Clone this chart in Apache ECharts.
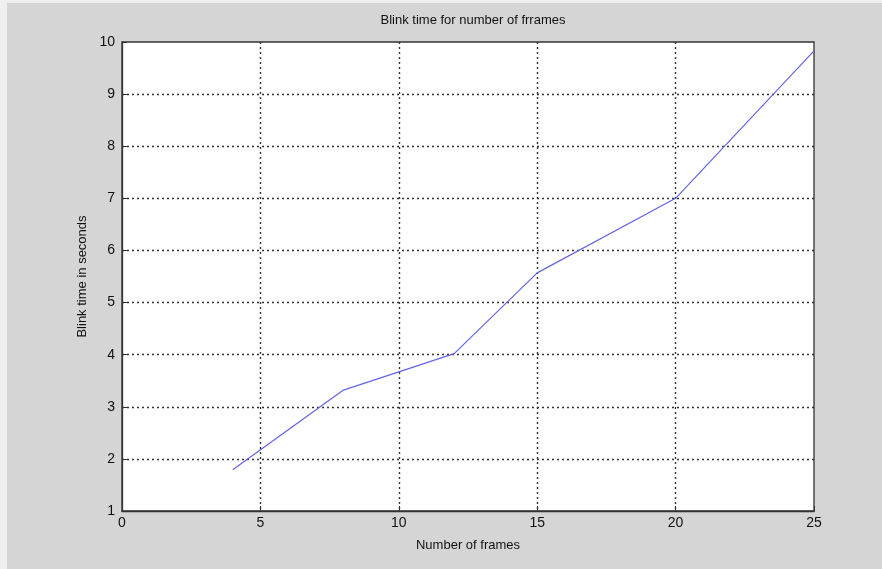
<!DOCTYPE html>
<html>
<head>
<meta charset="utf-8">
<script src="https://cdn.jsdelivr.net/npm/echarts@6/dist/echarts.min.js"></script>
<style>
  html, body { margin: 0; padding: 0; background: #efefef; width: 882px; height: 569px; overflow: hidden; }
  #c { position: absolute; left: 7px; top: 3px; width: 875px; height: 566px; background: #d5d5d5; }
</style>
</head>
<body>
<div id="c"></div>
<script>
const titleText = 'Blink time for number of frrames';
const xName = 'Number of frames';
const yName = 'Blink time in seconds';
const frames = [4, 8, 12, 15, 20, 25];
const blinkTime = [1.79, 3.32, 4.02, 5.57, 7.0, 9.83];

const chart = echarts.init(document.getElementById('c'));
const font = 'Liberation Sans, Arial, sans-serif';
const gridLeft = 115, gridTop = 39, gridW = 692, gridH = 469;
chart.setOption({
  animation: false,
  backgroundColor: 'transparent',
  title: {
    text: titleText,
    left: gridLeft + gridW / 2,
    textAlign: 'center',
    top: 6,
    textStyle: { fontFamily: font, fontSize: 13, fontWeight: 'normal', color: '#111' }
  },
  grid: {
    left: gridLeft, top: gridTop, width: gridW, height: gridH,
    show: true, backgroundColor: '#ffffff', borderColor: '#333', borderWidth: 1.3
  },
  xAxis: {
    type: 'value', min: 0, max: 25, interval: 5,
    name: xName, nameLocation: 'middle', nameGap: 28,
    nameTextStyle: { fontFamily: font, fontSize: 13, color: '#111' },
    axisLine: { show: true, lineStyle: { color: '#333', width: 1.3 } },
    axisTick: { show: true, inside: true, length: 5, lineStyle: { color: '#333' } },
    axisLabel: { fontFamily: font, fontSize: 14, color: '#111', margin: 5 },
    splitLine: { show: true, showMinLine: false, showMaxLine: false, lineStyle: { color: '#333', type: [2, 3], width: 1.4 } }
  },
  yAxis: {
    type: 'value', min: 1, max: 10, interval: 1,
    name: yName, nameLocation: 'middle', nameGap: 33, nameRotate: 90,
    nameTextStyle: { fontFamily: font, fontSize: 13, color: '#111' },
    axisLine: { show: true, lineStyle: { color: '#333', width: 1.3 } },
    axisTick: { show: true, inside: true, length: 5, lineStyle: { color: '#333' } },
    axisLabel: { fontFamily: font, fontSize: 14, color: '#111', margin: 7 },
    splitLine: { show: true, showMinLine: false, showMaxLine: false, lineStyle: { color: '#333', type: [2, 3], width: 1.4 } }
  },
  series: [{
    type: 'line',
    data: frames.map((f, i) => [f, blinkTime[i]]),
    showSymbol: false,
    lineStyle: { color: '#6464e6', width: 1.2 }
  }]
});
</script>
</body>
</html>
